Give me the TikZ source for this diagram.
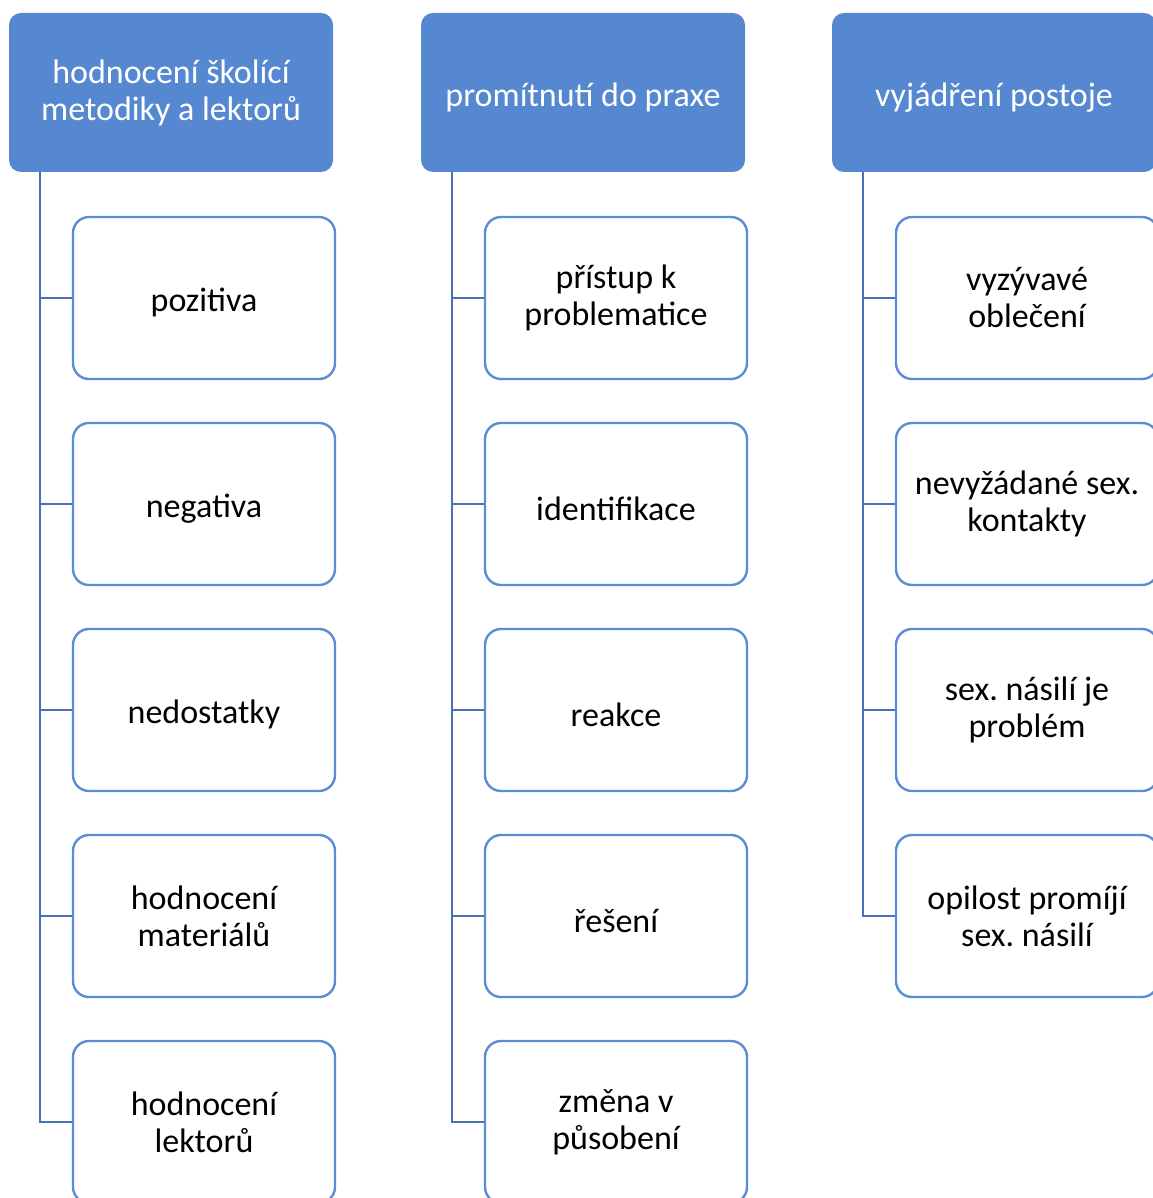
\documentclass[tikz,border=0pt]{standalone}
\usepackage{fontspec}
\setmainfont{Carlito}
\frenchspacing
\definecolor{headblue}{HTML}{5588D0}
\definecolor{lineblue}{HTML}{4A72B2}
\definecolor{boxblue}{HTML}{5B8DD6}

\begin{document}
\begin{tikzpicture}[x=1pt,y=-1pt,
    head/.style={rectangle,rounded corners=12pt,fill=headblue,text=white,
        minimum width=324pt,minimum height=159pt,align=center,
        font=\fontsize{34}{37}\selectfont,
        execute at begin node={\rule{0pt}{33pt}}},
    item/.style={rectangle,rounded corners=16pt,draw=boxblue,line width=2.4pt,
        fill=white,minimum width=262pt,minimum height=162pt,align=center,
        font=\fontsize{34}{37}\selectfont,
        execute at begin node={\rule{0pt}{33pt}}},
    conn/.style={draw=lineblue,line width=2.6pt}]
        \useasboundingbox (0,0) rectangle (1152,1198);
        % headers
        \node[head] (h1) at (171,92.5) {hodnocení školící\\metodiky a lektorů};
        \node[head] (h2) at (583,92.5) {promítnutí do praxe};
        \node[head] (h3) at (994,92.5) {vyjádření postoje};
        % first column
        \node[item] (a1) at (204,298) {pozitiva};
        \node[item] (a2) at (204,504) {negativa};
        \node[item] (a3) at (204,710) {nedostatky};
        \node[item] (a4) at (204,916) {hodnocení\\materiálů};
        \node[item] (a5) at (204,1122) {hodnocení\\lektorů};
        % second column
        \node[item] (b1) at (616,298) {přístup k\\problematice};
        \node[item] (b2) at (616,504) {identifikace};
        \node[item] (b3) at (616,710) {reakce};
        \node[item] (b4) at (616,916) {řešení};
        \node[item] (b5) at (616,1122) {změna v\\působení};
        % third column
        \node[item] (c1) at (1027,298) {vyzývavé\\oblečení};
        \node[item] (c2) at (1027,504) {nevyžádané sex.\\kontakty};
        \node[item] (c3) at (1027,710) {sex. násilí je\\problém};
        \node[item] (c4) at (1027,916) {opilost promíjí\\sex. násilí};
        % connectors
        \foreach \i in {1,...,5}
            \draw[conn] ([xshift=31pt]h1.south west) |- (a\i.west);
        \foreach \i in {1,...,5}
            \draw[conn] ([xshift=31pt]h2.south west) |- (b\i.west);
        \foreach \i in {1,...,4}
            \draw[conn] ([xshift=31pt]h3.south west) |- (c\i.west);
\end{tikzpicture}
\end{document}
